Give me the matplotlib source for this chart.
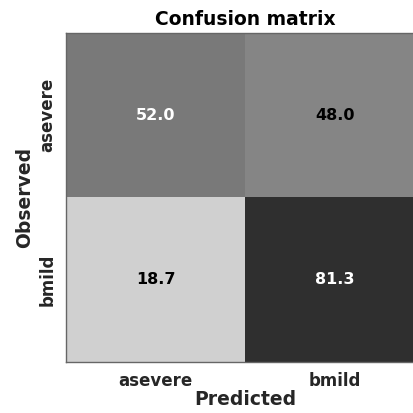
import numpy as np
import matplotlib
matplotlib.use("Agg")
import matplotlib.pyplot as plt

# Confusion matrix values (percent)
classes = ["asevere", "bmild"]
cm = np.array([[52.0, 48.0],
               [18.7, 81.3]])

fig = plt.figure(figsize=(4.13, 4.13), dpi=100)
ax = fig.add_axes([0.160, 0.123, 0.867, 0.797])

ax.imshow(cm, cmap="gray_r", vmin=0, vmax=100, aspect="auto", interpolation="nearest")

for i in range(cm.shape[0]):
    for j in range(cm.shape[1]):
        ax.text(j, i, f"{cm[i, j]:.1f}", ha="center", va="center",
                fontsize=11.5, fontweight="bold",
                color="white" if cm[i, j] > 50 else "black")

ax.set_xticks(range(len(classes)))
ax.set_yticks(range(len(classes)))
ax.set_xticklabels(classes, fontsize=12, fontweight="bold", color="#262626")
ax.set_yticklabels(classes, fontsize=12, fontweight="bold", color="#262626", rotation=90, va="center")
ax.tick_params(length=0, pad=7)
ax.set_xlabel("Predicted", fontsize=13.5, fontweight="bold", color="#262626", labelpad=0)
ax.set_ylabel("Observed", fontsize=13.5, fontweight="bold", color="#262626", labelpad=3)
ax.set_title("Confusion matrix", fontsize=13.5, fontweight="bold", pad=6)
for s in ax.spines.values():
    s.set_color("#666666")
    s.set_linewidth(1.0)

plt.savefig("out.png", dpi=100)
